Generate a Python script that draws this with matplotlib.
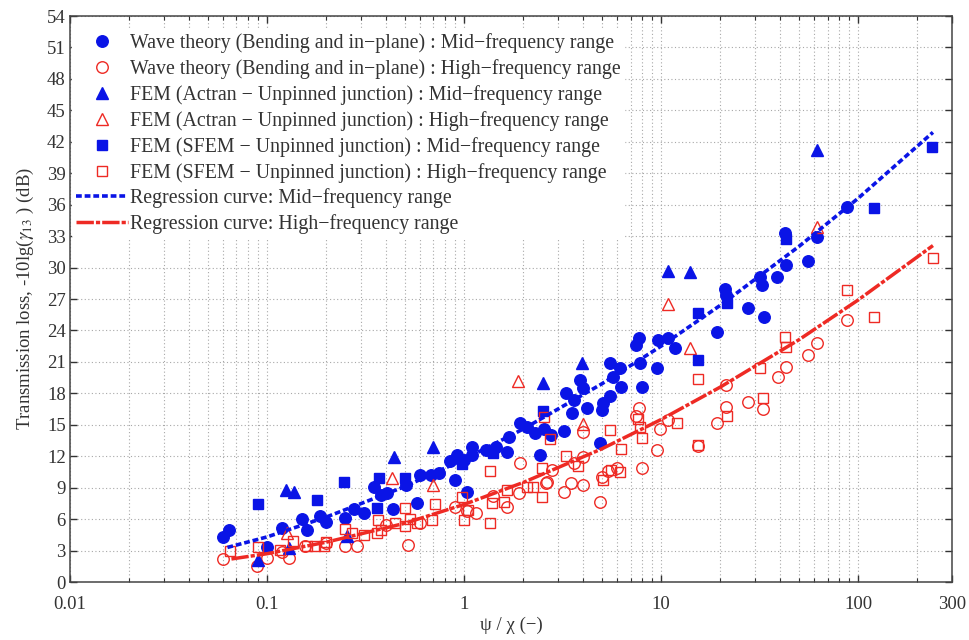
import numpy as np
import matplotlib
matplotlib.use("Agg")
import matplotlib.pyplot as plt
from matplotlib.ticker import FixedLocator, LogLocator, NullFormatter

plt.rcParams['font.family'] = ['Liberation Serif', 'DejaVu Serif']
plt.rcParams['mathtext.fontset'] = 'stix'

# ---- Wave theory (bending and in-plane) ----
wave_mid_x = [0.060, 0.064, 0.10, 0.119, 0.16, 0.186, 0.20, 0.15, 0.25, 0.275, 0.31, 0.35,
              0.38, 0.405, 0.436, 0.51, 0.58, 0.60, 0.68, 0.75, 0.85, 0.90, 0.92, 1.03,
              1.0, 1.1, 1.1, 1.3, 1.45, 1.65, 1.7, 1.92, 2.1, 2.3, 2.44, 2.55, 2.75, 3.2,
              3.3, 3.55, 3.6, 3.9, 4.0, 4.2, 4.9, 5.0, 5.1, 5.5, 5.5, 5.7, 6.2, 6.3, 7.5,
              7.7, 7.8, 8.0, 9.5, 9.7, 10.8, 11.8, 19.2, 21.1, 21.3, 27.6, 31.8, 32.5,
              33.2, 38.8, 43.3, 42.6, 55.7, 62.0, 88.0]
wave_mid_y = [4.3, 5.0, 3.3, 5.2, 5.0, 6.3, 5.7, 6.0, 6.1, 7.0, 6.6, 9.1,
              8.3, 8.5, 7.0, 9.3, 7.5, 10.2, 10.2, 10.4, 11.5, 9.7, 12.1, 8.6,
              11.6, 12.1, 12.9, 12.6, 12.9, 12.4, 13.8, 15.2, 14.8, 14.2, 12.1, 14.6, 14.0, 14.4,
              18.0, 16.1, 17.4, 19.3, 18.5, 16.6, 13.3, 16.4, 17.1, 17.7, 20.9, 19.6, 20.4, 18.6, 22.6,
              23.3, 20.9, 18.6, 20.4, 23.1, 23.3, 22.3, 23.9, 28.0, 27.4, 26.1, 29.1, 28.3,
              25.3, 29.1, 30.2, 33.3, 30.6, 32.9, 35.8]

wave_high_x = [0.060, 0.089, 0.10, 0.119, 0.13, 0.156, 0.20, 0.25, 0.285, 0.40, 0.52, 0.60,
               0.90, 1.03, 1.15, 1.4, 1.65, 1.9, 1.92, 2.6, 2.65, 2.8, 3.2, 3.5, 3.6, 4.0,
               4.0, 4.0, 4.9, 5.0, 5.4, 6.0, 7.5, 7.7, 8.0, 9.5, 9.9, 10.8, 15.4, 19.2,
               21.3, 21.3, 27.6, 33.0, 39.2, 43.3, 55.7, 62.0, 88.0]
wave_high_y = [2.2, 1.5, 2.3, 2.9, 2.3, 3.4, 3.7, 3.4, 3.4, 5.4, 3.5, 5.6,
               7.2, 6.8, 6.6, 8.2, 7.2, 8.5, 11.4, 9.4, 9.5, 10.7, 8.6, 9.4, 11.4, 9.3,
               11.9, 14.3, 7.6, 10.0, 10.6, 10.9, 15.8, 16.6, 10.9, 12.6, 14.6, 15.5, 13.0, 15.2,
               16.7, 18.8, 17.2, 16.5, 19.6, 20.5, 21.7, 22.8, 25.0]

# ---- FEM (Actran - unpinned junction) ----
actran_mid_x = [0.09, 0.13, 0.125, 0.137, 0.255, 0.44, 0.70, 2.52, 3.98, 10.8, 14.0, 62.0]
actran_mid_y = [2.1, 3.2, 8.8, 8.6, 4.4, 11.9, 12.9, 19.0, 20.9, 29.7, 29.6, 41.2]

actran_high_x = [0.126, 0.43, 0.70, 1.88, 4.0, 10.9, 14.0, 62.0]
actran_high_y = [4.7, 9.9, 9.3, 19.2, 15.1, 26.5, 22.3, 33.9]

# ---- FEM (SFEM - unpinned junction) ----
sfem_mid_x = [0.09, 0.18, 0.246, 0.36, 0.37, 0.50, 0.98, 1.4, 2.52, 15.4, 15.4, 21.6,
              43.0, 120.0, 238.0]
sfem_mid_y = [7.4, 7.8, 9.5, 7.1, 9.9, 9.9, 11.3, 12.3, 16.3, 25.7, 21.2, 26.6,
              32.7, 35.7, 41.5]

sfem_high_x = [0.065, 0.09, 0.116, 0.136, 0.16, 0.175, 0.195, 0.20, 0.25, 0.27, 0.31, 0.36,
               0.365, 0.38, 0.445, 0.50, 0.50, 0.53, 0.58, 0.69, 0.71, 0.98, 1.0, 1.05,
               1.35, 1.39, 1.35, 1.6, 1.65, 2.1, 2.25, 2.5, 2.5, 2.55, 2.73, 3.3, 3.8,
               5.1, 5.5, 5.6, 6.2, 6.3, 7.6, 7.8, 8.0, 12.0, 15.4, 15.4, 21.6, 31.8,
               33.0, 42.6, 43.3, 88.0, 120.0, 240.0]
sfem_high_y = [3.0, 3.3, 3.1, 3.9, 3.4, 3.4, 3.4, 3.8, 5.1, 4.7, 4.5, 4.7,
               5.9, 5.0, 5.6, 5.3, 7.1, 6.0, 5.6, 5.9, 7.4, 8.1, 5.9, 6.9,
               5.6, 7.5, 10.6, 7.6, 8.8, 9.1, 9.1, 8.1, 10.9, 15.7, 13.6, 12.0, 11.1,
               9.7, 14.5, 10.7, 10.5, 12.7, 15.6, 14.8, 13.7, 15.2, 19.4, 13.1, 15.8, 20.4,
               17.6, 23.4, 22.4, 27.9, 25.3, 30.9]

# ---- Regression curves ----
reg_mid_x = [0.063, 0.1, 0.2, 0.5, 1, 2, 5, 10, 20, 50, 100, 240]
reg_mid_y = [3.3, 4.3, 6.2, 9.1, 11.7, 14.6, 18.9, 22.5, 26.4, 32.0, 36.6, 42.9]
reg_high_x = [0.066, 0.1, 0.2, 0.5, 1, 2, 5, 10, 20, 50, 100, 240]
reg_high_y = [2.2, 2.7, 3.8, 5.6, 7.4, 9.5, 12.7, 15.5, 18.6, 23.1, 26.9, 32.1]

x_ticks = [0.01, 0.1, 1, 10, 100, 300]
x_tick_labels = ['0.01', '0.1', '1', '10', '100', '300']
y_ticks = list(range(0, 55, 3))

BLUE = '#0a14e6'
RED = '#ee2a24'
TXT = '#333333'

fig = plt.figure(figsize=(9.69, 6.40), dpi=100)
ax = fig.add_axes([0.0722, 0.0906, 0.9103, 0.8844])

ms_c = 8.3
ax.plot(wave_mid_x, wave_mid_y, 'o', color=BLUE, ms=ms_c, mec=BLUE, ls='none',
        label='Wave theory (Bending and in\u2212plane) : Mid\u2212frequency range')
ax.plot(wave_high_x, wave_high_y, 'o', mfc='none', mec=RED, mew=1.0, ms=ms_c, ls='none',
        label='Wave theory (Bending and in\u2212plane) : High\u2212frequency range')
ax.plot(actran_mid_x, actran_mid_y, '^', color=BLUE, ms=9, ls='none',
        label='FEM (Actran \u2212 Unpinned junction) : Mid\u2212frequency range')
ax.plot(actran_high_x, actran_high_y, '^', mfc='none', mec=RED, mew=1.0, ms=9, ls='none',
        label='FEM (Actran \u2212 Unpinned junction) : High\u2212frequency range')
ax.plot(sfem_mid_x, sfem_mid_y, 's', color=BLUE, ms=7, ls='none',
        label='FEM (SFEM \u2212 Unpinned junction) : Mid\u2212frequency range')
ax.plot(sfem_high_x, sfem_high_y, 's', mfc='none', mec=RED, mew=1.0, ms=7, ls='none',
        label='FEM (SFEM \u2212 Unpinned junction) : High\u2212frequency range')
ax.plot(reg_mid_x, reg_mid_y, color=BLUE, lw=2.6, ls=(0, (1.6, 0.8)),
        label='Regression curve: Mid\u2212frequency range')
ax.plot(reg_high_x, reg_high_y, color=RED, lw=2.5, ls=(0, (5, 0.6, 1.2, 0.6)),
        label='Regression curve: High\u2212frequency range')

ax.set_xscale('log')
ax.set_xlim(0.01, 300)
ax.set_ylim(0, 54)
ax.xaxis.set_major_locator(FixedLocator(x_ticks))
ax.set_xticklabels(x_tick_labels)
ax.xaxis.set_minor_locator(LogLocator(base=10, subs=np.arange(2, 10)))
ax.xaxis.set_minor_formatter(NullFormatter())
ax.set_yticks(y_ticks)

grid_kw = dict(ls=(0, (1, 2.2)), color='#a8a8a8', lw=0.8)
ax.grid(True, which='major', **grid_kw)
ax.grid(True, which='minor', axis='x', **grid_kw)
ax.set_axisbelow(True)

ax.tick_params(which='both', direction='in', top=True, right=True, colors=TXT,
               labelsize=13.5, labelcolor=TXT)
ax.tick_params(which='major', length=5, width=1.0)
ax.tick_params(which='minor', length=3, width=0.8)
ax.tick_params(axis='x', pad=10)
ax.tick_params(axis='y', pad=3)
for s in ax.spines.values():
    s.set_color('#444444')
    s.set_linewidth(1.1)

ax.set_xlabel('\u03c8 / \u03c7 (\u2212)', fontsize=13.5, color=TXT, labelpad=3)
ax.set_ylabel(r'Transmission loss, -10lg($\gamma_{13}$ ) (dB)', fontsize=13.5, color=TXT, labelpad=8)

leg = ax.legend(loc='upper left', bbox_to_anchor=(0.0, 0.98), fontsize=14.3,
                frameon=True, framealpha=1.0, edgecolor='white', facecolor='white',
                handlelength=2.6, handletextpad=0.1, labelspacing=0.3,
                borderpad=0.2, borderaxespad=0.1, numpoints=1)
for t in leg.get_texts():
    t.set_color(TXT)

fig.savefig('out.png', dpi=100)
